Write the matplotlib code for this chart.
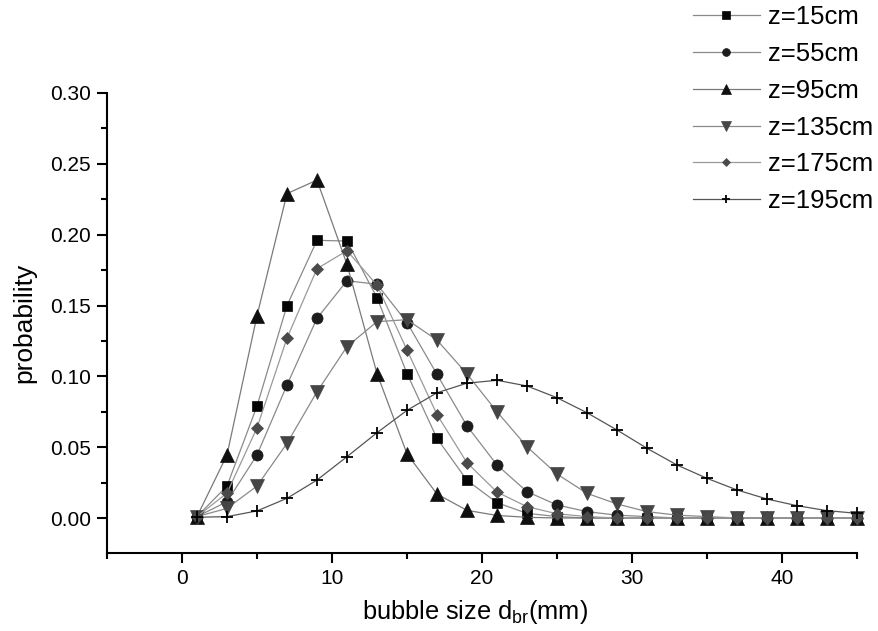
import matplotlib
matplotlib.use('Agg')
import matplotlib.pyplot as plt
from matplotlib.ticker import FixedLocator


plt.rcParams['font.family'] = ['Liberation Sans', 'DejaVu Sans']
plt.rcParams['mathtext.fontset'] = 'custom'
plt.rcParams['mathtext.rm'] = 'Liberation Sans'
plt.rcParams['mathtext.it'] = 'Liberation Sans'


## Data (bubble size in mm, probability per height z)

d_br = [1, 3, 5, 7, 9, 11, 13, 15, 17, 19, 21, 23, 25,
        27, 29, 31, 33, 35, 37, 39, 41, 43, 45]

p_15 = [0.001, 0.0226, 0.079, 0.150, 0.196, 0.1955, 0.1555, 0.102, 0.0562, 0.0266, 0.0108, 0.0033, 0.001,
        0.0, 0.0, 0.0, 0.0, 0.0, 0.0, 0.0, 0.0, 0.0, 0.0]
p_55 = [0.001, 0.0115, 0.0445, 0.0939, 0.141, 0.1675, 0.165, 0.138, 0.1014, 0.065, 0.0374, 0.0186, 0.0092,
        0.0045, 0.002, 0.001, 0.0, 0.0, 0.0, 0.0, 0.0, 0.0, 0.0]
p_95 = [0.001, 0.0445, 0.1428, 0.229, 0.2385, 0.179, 0.102, 0.0453, 0.0169, 0.0054, 0.0018, 0.0005, 0.0,
        0.0, 0.0, 0.0, 0.0, 0.0, 0.0, 0.0, 0.0, 0.0, 0.0]
p_135 = [0.001, 0.0068, 0.0226, 0.0527, 0.0891, 0.121, 0.1386, 0.140, 0.1256, 0.1017, 0.075, 0.0503, 0.031,
         0.0174, 0.0099, 0.0045, 0.002, 0.001, 0.0, 0.0, 0.0, 0.0, 0.0]
p_175 = [0.001, 0.0176, 0.0637, 0.127, 0.176, 0.1887, 0.1644, 0.1186, 0.073, 0.039, 0.0183, 0.008, 0.003,
         0.001, 0.0, 0.0, 0.0, 0.0, 0.0, 0.0, 0.0, 0.0, 0.0]
p_195 = [0.0005, 0.001, 0.005, 0.0139, 0.0268, 0.0433, 0.0602, 0.076, 0.0884, 0.0952, 0.0972, 0.0932, 0.0849,
         0.0743, 0.0621, 0.0492, 0.0374, 0.028, 0.0198, 0.0134, 0.0087, 0.0052, 0.0033]

labels = ['z=15cm', 'z=55cm', 'z=95cm', 'z=135cm', 'z=175cm', 'z=195cm']


## Figure

fgr = plt.figure(figsize=(8.79, 6.31), dpi=100)
ax = fgr.add_axes([107 / 879, 78 / 631, 750 / 879, 460 / 631])

styles = [
	(p_15, 's', 7.5, '#050505', '#8a8a8a'),
	(p_55, 'o', 8.0, '#1c1c1c', '#8a8a8a'),
	(p_95, '^', 9.5, '#101010', '#7a7a7a'),
	(p_135, 'v', 9.5, '#454545', '#8a8a8a'),
	(p_175, 'D', 6.5, '#4a4a4a', '#9a9a9a'),
	(p_195, '+', 9.0, '#000000', '#555555'),
]

for (vals, mk, ms, mc, lc), lab in zip(styles, labels):
	ax.plot(d_br, vals, color=lc, linewidth=0.9, marker=mk, markersize=ms,
	        markerfacecolor=mc, markeredgecolor=mc, markeredgewidth=1.3 if mk == '+' else 0.5,
	        label=lab, clip_on=False)

ax.set_xlim(-5, 45)
ax.set_ylim(-0.0247, 0.30)

ax.spines['top'].set_visible(False)
ax.spines['right'].set_visible(False)
for s in ('left', 'bottom'):
	ax.spines[s].set_linewidth(1.5)

ax.xaxis.set_major_locator(FixedLocator([0, 10, 20, 30, 40]))
ax.xaxis.set_minor_locator(FixedLocator([-5, 5, 15, 25, 35, 45]))
ax.yaxis.set_major_locator(FixedLocator([0.0, 0.05, 0.10, 0.15, 0.20, 0.25, 0.30]))
ax.yaxis.set_minor_locator(FixedLocator([0.025, 0.075, 0.125, 0.175, 0.225, 0.275]))
ax.yaxis.set_major_formatter(plt.FuncFormatter(lambda v, p: '%.2f' % v))

ax.tick_params(which='major', direction='out', length=7.5, width=1.5, labelsize=15, pad=4)
ax.tick_params(which='minor', direction='out', length=4.5, width=1.5)

ax.set_xlabel('bubble size d$_{\\mathrm{br}}$(mm)', fontsize=18.3)
ax.xaxis.set_label_coords(0.491, -0.097)
ax.set_ylabel('probability', fontsize=19, labelpad=10)

leg = ax.legend(loc='upper left', bbox_to_anchor=(693 / 879, 1 - 5 / 631),
                bbox_transform=fgr.transFigure, frameon=False, fontsize=18.5,
                handlelength=2.6, handletextpad=0.3, labelspacing=0.5,
                borderpad=0, borderaxespad=0, markerscale=0.7)

fgr.savefig('out.png', dpi=100)
